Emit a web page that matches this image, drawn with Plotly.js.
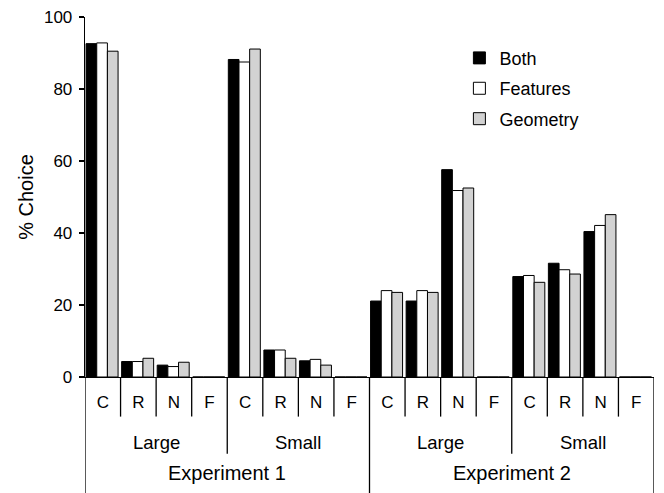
<!DOCTYPE html>
<html>
<head>
<meta charset="utf-8">
<script src="https://cdn.plot.ly/plotly-3.0.1.min.js"></script>
<style>html,body{margin:0;padding:0;background:#fff;}#chart{width:664px;height:493px;}</style>
</head>
<body>
<div id="chart"></div>
<script>
// ---- data ----
var experiments = ['Experiment 1', 'Experiment 2'];
var sizes = ['Large', 'Small'];
var responses = ['C', 'R', 'N', 'F'];
var seriesNames = ['Both', 'Features', 'Geometry'];
var both     = [92.6, 4.3, 3.3, 0,  88.2, 7.5, 4.5, 0,  21.1, 21.1, 57.6, 0,  27.9, 31.6, 40.4, 0];
var features = [92.8, 4.3, 2.9, 0,  87.5, 7.5, 4.9, 0,  24.0, 24.0, 51.8, 0,  28.2, 29.8, 42.1, 0];
var geometry = [90.5, 5.2, 4.1, 0,  91.1, 5.2, 3.3, 0,  23.5, 23.5, 52.5, 0,  26.3, 28.6, 45.1, 0];
var yTicks = [0, 20, 40, 60, 80, 100];

// ---- build ----
var FONT = 'Liberation Sans, Arial, Helvetica, sans-serif';
var xIdx = [], xText = [];
experiments.forEach(function (e) {
  sizes.forEach(function (s) {
    responses.forEach(function (r) { xIdx.push(xIdx.length); xText.push(r); });
  });
});
var nCells = xIdx.length;
var perExp = sizes.length * responses.length;

var colors = ['#000000', '#ffffff', '#d2d2d2'];
var offsets = [-0.47, -0.17, 0.13];
var values = [both, features, geometry];
var traces = values.map(function (v, k) {
  return {
    type: 'bar', name: seriesNames[k], x: xIdx, y: v,
    width: 0.3, offset: offsets[k],
    marker: { color: colors[k], line: { color: '#000', width: 1 } },
    legendgroup: 'g' + k, hoverinfo: 'y'
  };
});

var yLetter = -0.110, ySize = -0.213, yBottom = -0.34;
var shapes = [];
for (var i = 0; i <= nCells; i++) {
  var y1 = yLetter;
  if (i % perExp === 0) y1 = yBottom;
  else if (i % responses.length === 0) y1 = ySize;
  shapes.push({ type: 'line', xref: 'x', yref: 'paper', x0: i - 0.5, x1: i - 0.5, y0: 0, y1: y1,
    line: { color: '#000', width: 1.3 } });
}
var annotations = [];
experiments.forEach(function (e, ei) {
  sizes.forEach(function (s, si) {
    annotations.push({ xref: 'x', yref: 'paper', x: ei * perExp + si * responses.length + (responses.length - 1) / 2,
      y: -0.1825, text: s, showarrow: false, xanchor: 'center', yanchor: 'middle',
      font: { family: FONT, size: 18.5, color: '#000' } });
  });
  annotations.push({ xref: 'x', yref: 'paper', x: ei * perExp + (perExp - 1) / 2,
    y: -0.266, text: e, showarrow: false, xanchor: 'center', yanchor: 'middle',
    font: { family: FONT, size: 20, color: '#000' } });
});

var layout = {
  width: 664, height: 493,
  margin: { l: 85, r: 10, t: 17, b: 116 },
  paper_bgcolor: '#fff', plot_bgcolor: '#fff',
  font: { family: FONT, color: '#000' },
  barmode: 'overlay',
  showlegend: true,
  legend: { x: 0.658, y: 0.937, xanchor: 'left', yanchor: 'top', traceorder: 'grouped',
    tracegroupgap: 4, font: { family: FONT, size: 18, color: '#000' }, bgcolor: 'rgba(0,0,0,0)' },
  xaxis: {
    range: [-0.5, nCells - 0.5], tickmode: 'array', tickvals: xIdx, ticktext: xText,
    showline: true, linecolor: '#000', linewidth: 1.3, ticks: '', showgrid: false, zeroline: false,
    tickfont: { family: FONT, size: 17, color: '#000' }, ticklabelstandoff: 9, fixedrange: true
  },
  yaxis: {
    range: [0, 100], tickmode: 'array', tickvals: yTicks,
    showline: true, linecolor: '#000', linewidth: 1.3, ticks: 'outside', ticklen: 5, tickwidth: 1.3,
    tickcolor: '#000', showgrid: false, zeroline: false,
    tickfont: { family: FONT, size: 17, color: '#000' }, ticklabelstandoff: 3,
    title: { text: '% Choice', font: { family: FONT, size: 20, color: '#000' }, standoff: 5 },
    fixedrange: true
  },
  shapes: shapes,
  annotations: annotations
};
Plotly.newPlot('chart', traces, layout, { displayModeBar: false, staticPlot: true });
</script>
</body>
</html>
